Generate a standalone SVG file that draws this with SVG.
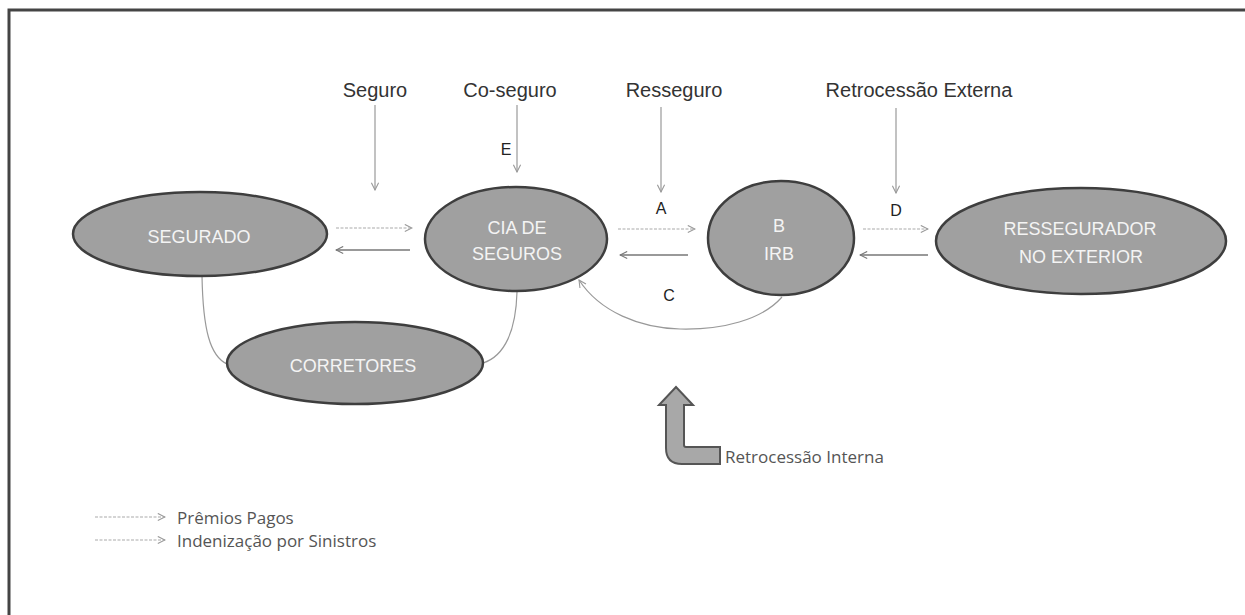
<svg xmlns="http://www.w3.org/2000/svg" width="1245" height="615" viewBox="0 0 1245 615">
<defs>
<marker id="open" viewBox="0 0 10 10" refX="9" refY="5" markerWidth="9" markerHeight="9" markerUnits="userSpaceOnUse" orient="auto">
<path d="M1,1 L9,5 L1,9" fill="none" stroke="#999" stroke-width="1.2"/>
</marker>
<marker id="openD" viewBox="0 0 10 10" refX="9" refY="5" markerWidth="9" markerHeight="9" markerUnits="userSpaceOnUse" orient="auto">
<path d="M1,1 L9,5 L1,9" fill="none" stroke="#777" stroke-width="1.2"/>
</marker>
</defs>
<style>
.node ellipse{fill:#a0a0a0;stroke:#3e3e3e;stroke-width:2.5}
.node text{font-family:"Liberation Sans",Arial,sans-serif;font-size:18px;fill:#f4f4f4;text-anchor:middle}
.lbl{font-family:"Liberation Sans",Arial,sans-serif;font-size:20px;fill:#333;text-anchor:middle}
.let{font-family:"Liberation Sans",Arial,sans-serif;font-size:16px;fill:#222;text-anchor:middle}
.leg{font-family:"Open Sans","Liberation Sans",sans-serif;font-size:17px;fill:#555}
.c{fill:none;stroke:#999;stroke-width:1.2}
.ca{fill:none;stroke:#999;stroke-width:1.2;marker-end:url(#open)}
.cp{fill:none;stroke:#aaa;stroke-width:1.2;stroke-dasharray:3 1.5;marker-end:url(#open)}
.cd{fill:none;stroke:#777;stroke-width:1.4;marker-end:url(#openD)}
</style>
<rect width="1245" height="615" fill="#fff"/>
<path d="M9,615 L9,10 L1245,10" fill="none" stroke="#444" stroke-width="3"/>

<g id="labels">
<text class="lbl" x="375" y="97">Seguro</text>
<text class="lbl" x="510" y="97">Co-seguro</text>
<text class="lbl" x="674" y="97">Resseguro</text>
<text class="lbl" x="919" y="97">Retrocessão Externa</text>
<text class="let" x="506" y="155">E</text>
<text class="let" x="661" y="214">A</text>
<text class="let" x="896" y="216">D</text>
<text class="let" x="669" y="301">C</text>
</g>

<g id="connectors">
<line class="ca" x1="375" y1="105" x2="375" y2="190"/>
<line class="ca" x1="517" y1="105" x2="517" y2="172"/>
<line class="ca" x1="661" y1="107" x2="661" y2="192"/>
<line class="ca" x1="896" y1="108" x2="896" y2="193"/>
<line class="cp" x1="336" y1="228" x2="412" y2="228"/>
<line class="cd" x1="410" y1="250" x2="336" y2="250"/>
<line class="cp" x1="618" y1="229" x2="695" y2="229"/>
<line class="cd" x1="688" y1="255" x2="620" y2="255"/>
<line class="cp" x1="863" y1="229" x2="928" y2="229"/>
<line class="cd" x1="928" y1="255" x2="860" y2="255"/>
<path class="c" d="M202,276 C203,330 210,356 227,364"/>
<path class="c" d="M517,292 C516,330 505,356 483,363"/>
<path class="ca" d="M782,297 C762,320 722,330 680,329 C640,328 600,312 579,280"/>
</g>

<g id="segurado" class="node"><ellipse cx="200" cy="234" rx="127" ry="42"/><text x="199" y="243">SEGURADO</text></g>
<g id="cia" class="node"><ellipse cx="516" cy="239" rx="91" ry="52"/><text x="517" y="234">CIA DE</text><text x="517" y="260">SEGUROS</text></g>
<g id="irb" class="node"><ellipse cx="781" cy="238" rx="73" ry="57"/><text x="779" y="232">B</text><text x="779" y="260">IRB</text></g>
<g id="ressegurador" class="node"><ellipse cx="1081" cy="241" rx="145" ry="53"/><text x="1080" y="235">RESSEGURADOR</text><text x="1081" y="263">NO EXTERIOR</text></g>
<g id="corretores" class="node"><ellipse cx="355" cy="363" rx="128" ry="41"/><text x="353" y="372">CORRETORES</text></g>

<g id="retro-interna">
<path d="M666,405 L666,448 Q666,464 682,464 L720,464 L720,447 L686,447 Q684,447 684,445 L684,405 L693,405 L676,387 L659,405 Z" fill="#a8a8a8" stroke="#555" stroke-width="2"/>
<text class="leg" x="725" y="463">Retrocessão Interna</text>
</g>

<g id="legend">
<line class="cp" x1="95" y1="517" x2="165" y2="517"/>
<text class="leg" x="177" y="524">Prêmios Pagos</text>
<line class="cp" x1="95" y1="540" x2="165" y2="540"/>
<text class="leg" x="177" y="547">Indenização por Sinistros</text>
</g>
</svg>
